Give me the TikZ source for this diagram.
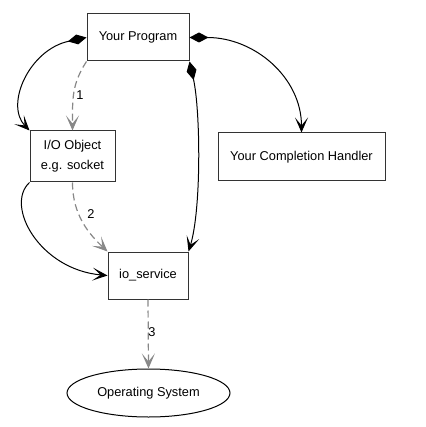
\documentclass[tikz,border=0pt]{standalone}
\usepackage{fontspec}
\setmainfont{Liberation Sans}
\usetikzlibrary{arrows.meta,shapes.geometric}
\definecolor{boxline}{HTML}{333333}
\definecolor{dashgray}{HTML}{888888}
\begin{document}
\begin{tikzpicture}[x=1pt,y=-1pt,
  every node/.style={font=\fontsize{12.8}{20}\selectfont},
  box/.style={draw=boxline,line width=1pt,inner sep=0pt,align=center},
  strong/.style={draw=black,line width=1pt,{Diamond[length=19pt,width=10pt]}-{Stealth[length=15pt,width=13pt,inset=8pt]}},
  plain/.style={draw=black,line width=1pt,-{Stealth[length=15pt,width=13pt,inset=8pt]}},
  calls/.style={draw=dashgray,line width=1.2pt,dash pattern=on 7pt off 4pt,-{Stealth[length=15pt,width=13pt,inset=8pt,sep=0pt]}},
  num/.style={inner sep=0pt}]
\useasboundingbox (0,0) rectangle (425,427);
\node[box,minimum width=102pt,minimum height=47pt] (prog) at (138,37.5) {Your Program};
\node[box,minimum width=85pt,minimum height=51pt] (io) at (72.5,156.5) {I/O Object\\e.g. socket};
\node[box,minimum width=80pt,minimum height=47pt] (svc) at (148,275.5) {io\_service};
\node[box,minimum width=167pt,minimum height=48pt] (hand) at (301.5,157) {Your Completion Handler};
\node[draw=black,line width=1pt,ellipse,inner sep=0pt,minimum width=163pt,minimum height=48pt] (os) at (148.5,393) {Operating System};

\draw[strong] (prog.west) .. controls +(-57,12) and +(-25,-26) .. (io.north west);
\draw[strong] (prog.east) .. controls +(65,0) and +(0,-55) .. (hand.north);
\draw[strong] (prog.south east) .. controls +(11,49) and +(13,-42) .. (svc.north east);
\draw[plain] (io.south west) .. controls +(-25,23) and +(-68,-6) .. (svc.west);

\draw[calls] (prog.south west) .. controls +(-15,23) and +(0,-31) .. (io.north);
\draw[calls] (io.south) .. controls +(0,33) and +(-18,-17) .. (svc.north west);
\draw[calls] (svc.south) -- (os.north);
\node[num] (n1) at (80,95) {1};
\node[num] (n2) at (91,214) {2};
\node[num] (n3) at (152,332) {3};
\end{tikzpicture}
\end{document}
